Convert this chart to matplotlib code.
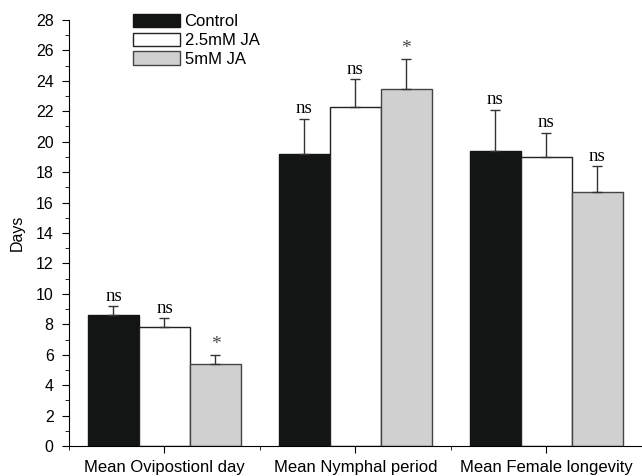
import numpy as np
import matplotlib
matplotlib.use("Agg")
import matplotlib.pyplot as plt
from matplotlib.ticker import MultipleLocator

categories = ["Mean Ovipostionl day", "Mean Nymphal period", "Mean Female longevity"]
groups = ["Control", "2.5mM JA", "5mM JA"]
means = {
    "Control": [8.6, 19.2, 19.4],
    "2.5mM JA": [7.8, 22.3, 19.0],
    "5mM JA": [5.4, 23.45, 16.7],
}
errors = {
    "Control": [0.6, 2.3, 2.7],
    "2.5mM JA": [0.6, 1.8, 1.6],
    "5mM JA": [0.6, 2.0, 1.7],
}
marks = {
    "Control": ["ns", "ns", "ns"],
    "2.5mM JA": ["ns", "ns", "ns"],
    "5mM JA": ["*", "*", "ns"],
}
colors = {"Control": "#131514", "2.5mM JA": "white", "5mM JA": "#d0d0d0"}
edges = {"Control": "#131514", "2.5mM JA": "#222222", "5mM JA": "#444444"}

plt.rcParams["font.family"] = "Liberation Sans"

fig = plt.figure(figsize=(6.42, 4.76), dpi=100)
ax = fig.add_axes([0.1075, 0.063, 0.892, 0.895])

x = np.arange(len(categories))
w = 0.267
for i, g in enumerate(groups):
    pos = x + (i - 1) * w
    ax.bar(pos, means[g], w, color=colors[g], edgecolor=edges[g], linewidth=1.0,
           label=g, zorder=2)
    ax.errorbar(pos, means[g], yerr=[np.zeros(3), errors[g]], fmt="none",
                ecolor="#333333", elinewidth=1.0, capsize=3.4, capthick=1.0, zorder=3)
    for xp, m, e, t in zip(pos, means[g], errors[g], marks[g]):
        if t == "ns":
            ax.text(xp, m + e + 0.1, t, ha="center", va="bottom",
                    family="Liberation Serif", fontsize=13.5)
        else:
            ax.text(xp, m + e + 0.1, t, ha="center", va="bottom",
                    family="Liberation Serif", fontsize=14, color="#444444")

ax.set_xlim(-0.5, 2.5)
ax.set_ylim(0, 28)
ax.yaxis.set_major_locator(MultipleLocator(2))
ax.yaxis.set_minor_locator(MultipleLocator(1))
ax.set_xticks(x)
ax.set_xticks([-0.5, 0.5, 1.5], minor=True)
ax.set_xticklabels(categories, fontsize=12)
ax.tick_params(axis="y", labelsize=11.5, pad=6)
ax.tick_params(axis="x", pad=5)
ax.tick_params(which="major", length=5)
ax.tick_params(which="minor", length=3)
ax.spines["top"].set_visible(False)
ax.spines["right"].set_visible(False)
ax.set_ylabel("Days", fontsize=11.5, labelpad=8)

ax.legend(loc="upper left", bbox_to_anchor=(0.1, 1.03), frameon=False, fontsize=12,
          handlelength=2.8, handleheight=0.85, handletextpad=0.3, labelspacing=0.2,
          borderaxespad=0)

fig.savefig("out.png", dpi=100)
